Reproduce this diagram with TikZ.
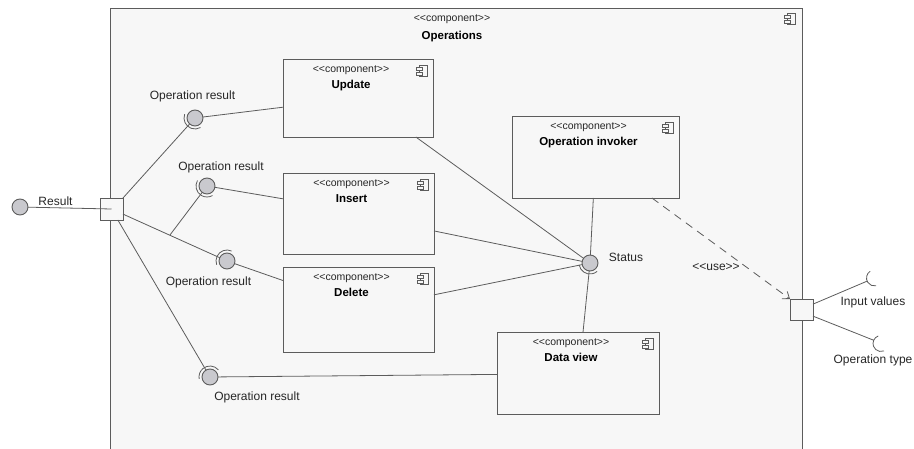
\documentclass[tikz,border=0pt]{standalone}
\usepackage{fontspec}
\setmainfont{Liberation Sans}
\usetikzlibrary{calc,arrows.meta}
\definecolor{bg}{HTML}{F7F7F7}
\definecolor{ln}{HTML}{5C5C5C}
\definecolor{ballfill}{HTML}{C9C9CE}
\definecolor{txt}{HTML}{262626}
\newcommand{\cicon}[1]{%
  \draw[iconst] ([shift={(-8,0)}]#1) rectangle ([shift={(0,-11)}]#1);
  \draw[iconst,fill=bg] ([shift={(-11,-2)}]#1) rectangle ([shift={(-5,-5)}]#1);
  \draw[iconst,fill=bg] ([shift={(-11,-7)}]#1) rectangle ([shift={(-5,-10)}]#1);}
\newcommand{\st}{<\kern0pt<component>\kern0pt>}
\tikzset{
  box/.style={draw=ln, line width=0.9pt, fill=bg, rectangle, inner sep=0, outer sep=0},
  port/.style={draw=ln, line width=0.9pt, fill=bg, rectangle, inner sep=0, outer sep=0},
  ball/.style={draw=ln, line width=0.9pt, fill=ballfill, circle, minimum size=16, inner sep=0, outer sep=0},
  sockc/.style={circle, minimum size=16, inner sep=0, outer sep=0},
  conn/.style={draw=ln, line width=0.8pt},
  sock/.style={draw=ln, line width=0.8pt},
  iconst/.style={draw=ln, line width=0.7pt},
  stereo/.style={font=\fontsize{10.5}{12}\selectfont, text=txt, anchor=base, inner sep=0},
  cname/.style={font=\bfseries\fontsize{11.5}{13}\selectfont, text=black, anchor=base, inner sep=0},
  lbl/.style={font=\fontsize{12}{14}\selectfont, text=txt, inner sep=0},
  dep/.style={draw=ln, line width=0.8pt, dash pattern=on 8pt off 6pt, -{Straight Barb[length=6pt,width=9pt]}}
}
\begin{document}
\begin{tikzpicture}[x=1pt,y=1pt]
\useasboundingbox (0,0) rectangle (914,-449);
% outer component
\fill[bg] (110,-8) rectangle (802,-449);
\draw[draw=ln, line width=0.9pt] (110,-449) -- (110,-8) -- (802,-8) -- (802,-449);
\node[stereo] (ost) at (452,-22) {\st};
\node[cname] (oname) at (452,-40) {Operations};
\coordinate (io) at (795,-13);
\cicon{io}
% inner components
\node[box, minimum width=150, minimum height=78] (upd) at (358,-98) {};
\node[box, minimum width=151, minimum height=81] (ins) at (358.5,-213.5) {};
\node[box, minimum width=151, minimum height=85] (del) at (358.5,-309.5) {};
\node[box, minimum width=167, minimum height=82] (inv) at (595.5,-157) {};
\node[box, minimum width=162, minimum height=82] (dv) at (578,-373) {};
\foreach \b/\n in {upd/Update, ins/Insert, del/Delete, inv/Operation invoker, dv/Data view}{
  \node[stereo] (\b-st) at ([xshift=-7,yshift=-14]\b.north) {\st};
  \node[cname] (\b-nm) at ([xshift=-7,yshift=-30]\b.north) {\n};
  \coordinate (\b-ic) at ([shift={(-6,-6)}]\b.north east);
  \cicon{\b-ic}
}
% ports
\node[port, minimum width=23, minimum height=22] (lport) at (111.5,-209) {};
\node[port, minimum width=23, minimum height=21] (rport) at (801.5,-309.5) {};
% balls
\node[ball] (rball) at (20,-207) {};
\node[ball] (b1) at (195,-118) {};
\node[ball] (b2) at (207,-186) {};
\node[ball] (b3) at (227,-261) {};
\node[ball] (b4) at (210,-377) {};
\node[ball] (stb) at (590,-263) {};
% sockets on balls
\draw[sock] ([shift={(160:11)}]b1.center) arc[start angle=160, end angle=300, radius=11];
\draw[sock] ([shift={(150:11)}]b2.center) arc[start angle=150, end angle=300, radius=11];
\draw[sock] ([shift={(65:11)}]b3.center) arc[start angle=65, end angle=200, radius=11];
\draw[sock] ([shift={(40:11)}]b4.center) arc[start angle=40, end angle=190, radius=11];
\draw[sock] ([shift={(190:11)}]stb.center) arc[start angle=190, end angle=310, radius=11];
% required sockets on the right
\node[sockc] (siv) at (874.5,-278) {};
\node[sockc] (sot) at (881,-343.5) {};
\draw[sock] (siv.123) arc[start angle=123, end angle=282, radius=8];
\draw[sock] (sot.110) arc[start angle=110, end angle=292, radius=8];
% connectors
\draw[conn] (rball) -- (lport.center);
\draw[conn] (lport.north east) -- (b1);
\draw[conn] (b1) -- (upd.187);
\draw[conn] (lport.-24) -- (b3);
\coordinate (jn) at ($(lport.-24)!0.45!(b3)$);
\draw[conn] (jn) -- (b2);
\draw[conn] (b2) -- (ins.169);
\draw[conn] (b3) -- (del.159);
\draw[conn] (lport.-60) -- (b4);
\draw[conn] (b4) -- (dv.181);
\draw[conn] (upd.-34) -- (stb);
\draw[conn] (ins.-13) -- (stb);
\draw[conn] (del.11.6) -- (stb);
\draw[conn] (inv.-93) -- (stb);
\draw[conn] (stb) -- (dv.83);
\draw[dep] (inv.-36) -- (rport.north west);
\draw[conn] (rport.25) -- (siv.203);
\draw[conn] (rport.-30) -- (sot.156);
% labels
\node[lbl] (lres) at (55.5,-201.5) {Result};
\node[lbl] (l1) at (192.5,-96.5) {Operation result};
\node[lbl] (l2) at (221,-167.5) {Operation result};
\node[lbl] (l3) at (208.5,-282.5) {Operation result};
\node[lbl] (l4) at (257,-397.5) {Operation result};
\node[lbl] (lst) at (626,-257.5) {Status};
\node[lbl] (luse) at (716,-267) {<\kern0pt<use>\kern0pt>};
\node[lbl] (liv) at (873,-302) {Input values};
\node[lbl] (lot) at (873,-360.5) {Operation type};
\end{tikzpicture}
\end{document}
